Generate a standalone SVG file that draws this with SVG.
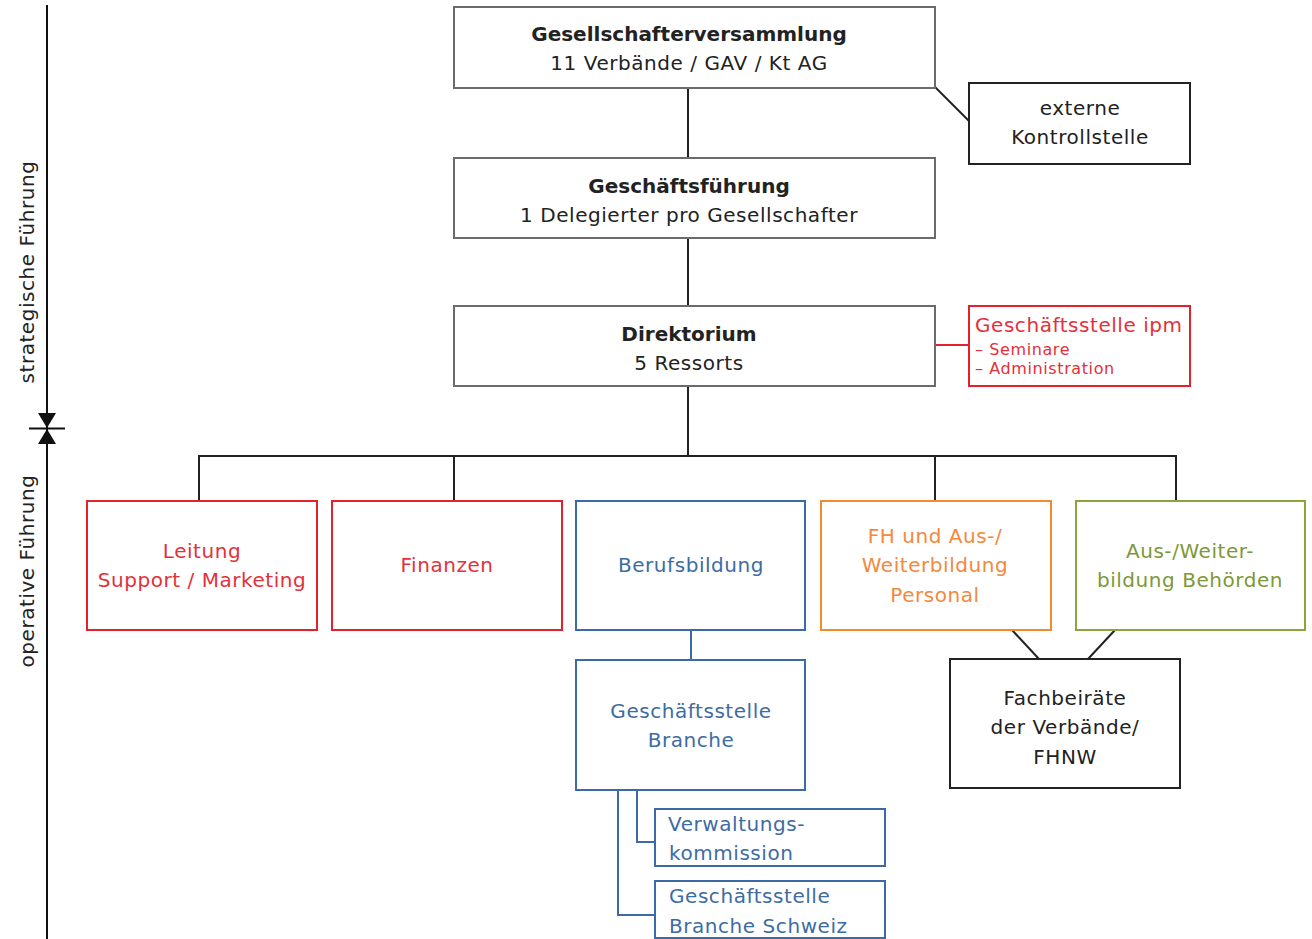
<svg xmlns="http://www.w3.org/2000/svg" width="1312" height="939" viewBox="0 0 1312 939">
<defs>
<style>
text{font-family:"DejaVu Sans","Liberation Sans",sans-serif;font-size:20px;letter-spacing:0.55px;fill:#222}
.c{text-anchor:middle}
.b{font-weight:bold;letter-spacing:0px}
.box{fill:#fff;stroke-width:2}
.gray{stroke:#6b6b6b}
.blk{stroke:#222}
.red{stroke:#e4222e}
.blue{stroke:#3c6aa6}
.orange{stroke:#f28a30}
.green{stroke:#8aa53c}
.tr{fill:#e4303a}
.tb{fill:#3d6ca3}
.to{fill:#f4883c}
.tg{fill:#7e9838}
.ln{fill:none;stroke:#222;stroke-width:2}
.lnb{fill:none;stroke:#3c6aa6;stroke-width:2}
.lnr{fill:none;stroke:#e4222e;stroke-width:2}
.sm{font-size:16px;letter-spacing:0.6px}
</style>
</defs>
<rect width="1312" height="939" fill="#fff"/>

<g id="axis">
<line x1="47" y1="5" x2="47" y2="939" stroke="#111" stroke-width="2"/>
<polygon points="38,413 56,413 47,428" fill="#111"/>
<polygon points="38,444 56,444 47,429" fill="#111"/>
<line x1="29" y1="428.5" x2="65" y2="428.5" stroke="#111" stroke-width="2"/>
<text class="c" transform="translate(34,272) rotate(-90)">strategische Führung</text>
<text class="c" transform="translate(34,571) rotate(-90)">operative Führung</text>
</g>

<g id="connectors">
<line class="ln" x1="688" y1="88" x2="688" y2="158"/>
<line class="ln" x1="688" y1="238" x2="688" y2="306"/>
<line class="ln" x1="688" y1="386" x2="688" y2="456"/>
<line class="ln" x1="935" y1="87" x2="969" y2="121"/>
<line class="lnr" x1="935" y1="345" x2="969" y2="345"/>
<polyline class="ln" points="199,501 199,456 1176,456 1176,501"/>
<line class="ln" x1="454" y1="456" x2="454" y2="501"/>
<line class="ln" x1="935" y1="456" x2="935" y2="501"/>
<line class="lnb" x1="691" y1="630" x2="691" y2="660"/>
<polyline class="lnb" points="618,790 618,915 655,915"/>
<polyline class="lnb" points="637,790 637,842 655,842"/>
<line class="ln" x1="1012" y1="630" x2="1039" y2="659"/>
<line class="ln" x1="1115" y1="630" x2="1088" y2="659"/>
</g>

<g id="gesellschafterversammlung">
<rect class="box gray" x="454" y="7" width="481" height="81"/>
<text class="c b" x="689" y="41">Gesellschafterversammlung</text>
<text class="c" x="689" y="70">11 Verbände / GAV / Kt AG</text>
</g>
<g id="kontrollstelle">
<rect class="box blk" x="969" y="83" width="221" height="81"/>
<text class="c" x="1080" y="115">externe</text>
<text class="c" x="1080" y="144">Kontrollstelle</text>
</g>
<g id="geschaeftsfuehrung">
<rect class="box gray" x="454" y="158" width="481" height="80"/>
<text class="c b" x="689" y="193">Geschäftsführung</text>
<text class="c" x="689" y="222">1 Delegierter pro Gesellschafter</text>
</g>
<g id="direktorium">
<rect class="box gray" x="454" y="306" width="481" height="80"/>
<text class="c b" x="689" y="341">Direktorium</text>
<text class="c" x="689" y="370">5 Ressorts</text>
</g>
<g id="ipm">
<rect class="box red" x="969" y="306" width="221" height="80"/>
<text class="tr" x="975" y="332">Geschäftsstelle ipm</text>
<text class="tr sm" x="975" y="355">– Seminare</text>
<text class="tr sm" x="975" y="374">– Administration</text>
</g>

<g id="leitung">
<rect class="box red" x="87" y="501" width="230" height="129"/>
<text class="c tr" x="202" y="558">Leitung</text>
<text class="c tr" x="202" y="587">Support / Marketing</text>
</g>
<g id="finanzen">
<rect class="box red" x="332" y="501" width="230" height="129"/>
<text class="c tr" x="447" y="572">Finanzen</text>
</g>
<g id="berufsbildung">
<rect class="box blue" x="576" y="501" width="229" height="129"/>
<text class="c tb" x="691" y="572">Berufsbildung</text>
</g>
<g id="fh">
<rect class="box orange" x="821" y="501" width="230" height="129"/>
<text class="c to" x="935" y="543">FH und Aus-/</text>
<text class="c to" x="935" y="572">Weiterbildung</text>
<text class="c to" x="935" y="602">Personal</text>
</g>
<g id="behoerden">
<rect class="box green" x="1076" y="501" width="229" height="129"/>
<text class="c tg" x="1190" y="558">Aus-/Weiter-</text>
<text class="c tg" x="1190" y="587">bildung Behörden</text>
</g>

<g id="branche">
<rect class="box blue" x="576" y="660" width="229" height="130"/>
<text class="c tb" x="691" y="718">Geschäftsstelle</text>
<text class="c tb" x="691" y="747">Branche</text>
</g>
<g id="fachbeiraete">
<rect class="box blk" x="950" y="659" width="230" height="129"/>
<text class="c" x="1065" y="705">Fachbeiräte</text>
<text class="c" x="1065" y="734">der Verbände/</text>
<text class="c" x="1065" y="764">FHNW</text>
</g>
<g id="verwaltungskommission">
<rect class="box blue" x="655" y="809" width="230" height="57"/>
<text class="tb" x="668" y="831">Verwaltungs-</text>
<text class="tb" x="669" y="860">kommission</text>
</g>
<g id="branche_schweiz">
<rect class="box blue" x="655" y="881" width="230" height="57"/>
<text class="tb" x="669" y="903">Geschäftsstelle</text>
<text class="tb" x="669" y="933">Branche Schweiz</text>
</g>
</svg>
